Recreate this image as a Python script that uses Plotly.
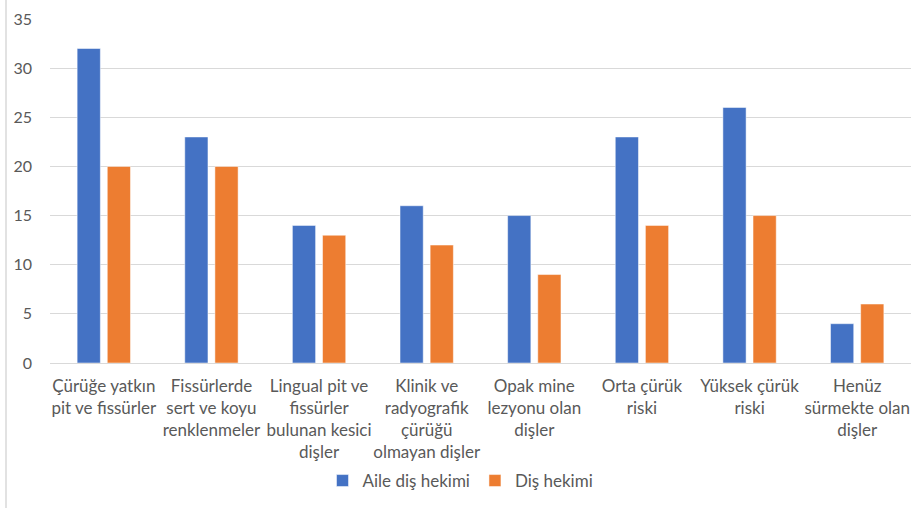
import plotly.graph_objects as go

categories = [
    "Çürüğe yatkın<br>pit ve fissürler",
    "Fissürlerde<br>sert ve koyu<br>renklenmeler",
    "Lingual pit ve<br>fissürler<br>bulunan kesici<br>dişler",
    "Klinik ve<br>radyografik<br>çürüğü<br>olmayan dişler",
    "Opak mine<br>lezyonu olan<br>dişler",
    "Orta çürük<br>riski",
    "Yüksek çürük<br>riski",
    "Henüz<br>sürmekte olan<br>dişler",
]
aile = [32, 23, 14, 16, 15, 23, 26, 4]
dis = [20, 20, 13, 12, 9, 14, 15, 6]
y_ticks = [0, 5, 10, 15, 20, 25, 30, 35]

FONT = "Lato"
GREY = "#595959"
FS = 17

fig = go.Figure()
fig.add_trace(go.Bar(x=categories, y=aile, name="Aile diş hekimi",
                     marker=dict(color="#4472C4", line=dict(color="#FFFFFF", width=0.5))))
fig.add_trace(go.Bar(x=categories, y=dis, name="Diş hekimi",
                     marker=dict(color="#ED7D31", line=dict(color="#FFFFFF", width=0.5))))

W, H = 911, 508
L, R, T, B = 50, 0, 19, 145
pw, ph = W - L - R, H - T - B

fig.update_layout(
    width=W, height=H,
    margin=dict(l=L, r=R, t=T, b=B),
    paper_bgcolor="white", plot_bgcolor="white",
    barmode="group", bargap=0.44, bargroupgap=0.23,
    font=dict(family=FONT, size=FS, color=GREY),
    showlegend=True,
    legend=dict(orientation="h", x=0.5 - 20 / pw, xanchor="center",
                y=(363 - 481) / ph, yanchor="middle",
                font=dict(size=FS, color=GREY), itemwidth=30,
                traceorder="normal"),
    xaxis=dict(showgrid=False, showline=False, zeroline=False, ticks="",
               tickfont=dict(size=FS, color=GREY), ticklabelstandoff=11,
               tickangle=0, automargin=False),
    yaxis=dict(range=[0, 35], tickvals=y_ticks, showgrid=True,
               gridcolor="#D9D9D9", gridwidth=1, zeroline=True,
               zerolinecolor="#D9D9D9", zerolinewidth=1,
               tickfont=dict(size=16, color=GREY), ticks="", ticklabelstandoff=17,
               automargin=False),
    shapes=[dict(type="rect", xref="paper", yref="paper",
                 x0=-(L - 6) / pw, x1=1.2, y0=-1, y1=(H - T - 1) / ph,
                 line=dict(color="#D9D9D9", width=1.5), fillcolor="rgba(0,0,0,0)",
                 layer="below")],
)

fig.write_html("out.html", config={"displayModeBar": False},
               post_script="document.body.style.margin='0';")
